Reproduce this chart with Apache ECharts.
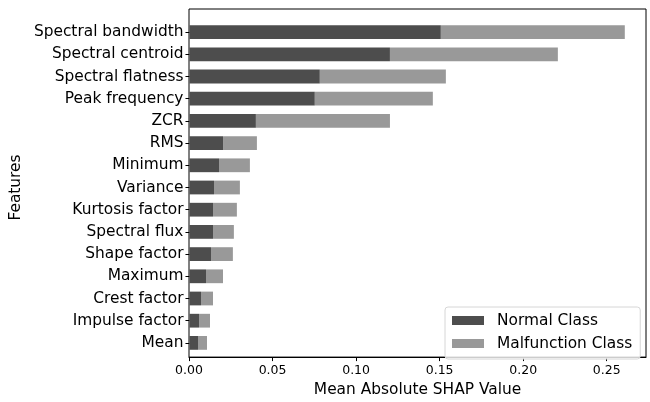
<!DOCTYPE html>
<html>
<head>
<meta charset="utf-8">
<script src="https://cdn.jsdelivr.net/npm/echarts@6/dist/echarts.min.js"></script>
<style>
  html, body { margin: 0; padding: 0; background: #fff; }
  #chart { width: 650px; height: 402px; }
</style>
</head>
<body>
<div id="chart"></div>
<script>
// Feature names, top to bottom
const features = [
  'Spectral bandwidth', 'Spectral centroid', 'Spectral flatness', 'Peak frequency',
  'ZCR', 'RMS', 'Minimum', 'Variance', 'Kurtosis factor', 'Spectral flux',
  'Shape factor', 'Maximum', 'Crest factor', 'Impulse factor', 'Mean'
];
// Mean |SHAP| per class
const normalClass = [
  0.1506, 0.1201, 0.0781, 0.0751, 0.0398, 0.0201, 0.0177, 0.0147,
  0.0141, 0.0141, 0.0129, 0.0099, 0.0069, 0.0057, 0.0051
];
const malfunctionClass = [
  0.1102, 0.1006, 0.0755, 0.0707, 0.0803, 0.0203, 0.0185, 0.0155,
  0.0143, 0.0125, 0.0131, 0.0102, 0.0072, 0.0066, 0.0054
];
const xTicks = [0, 0.05, 0.10, 0.15, 0.20, 0.25];
const xMax = 0.2735;

const FONT = 'DejaVu Sans';
const chart = echarts.init(document.getElementById('chart'), null, { renderer: 'canvas' });

chart.setOption({
  animation: false,
  textStyle: { fontFamily: FONT, color: '#000' },
  grid: [
    // outer frame with the value axis
    { left: 189, right: 4, top: 9, bottom: 38, show: true, borderColor: '#000', borderWidth: 1, backgroundColor: 'transparent' },
    // bar band area (inset like matplotlib's margins)
    { left: 189, right: 4, top: 21, bottom: 48 }
  ],
  xAxis: [
    {
      gridIndex: 0, type: 'value', min: 0, max: xMax, interval: xTicks[1] - xTicks[0],
      axisLine: { show: true, lineStyle: { color: '#000', width: 1 } },
      axisTick: { show: true, inside: false, length: 4, lineStyle: { color: '#000' } },
      axisLabel: {
        fontFamily: FONT, fontSize: 12.5, color: '#000', margin: 7,
        showMaxLabel: false,
        formatter: v => v.toFixed(2)
      },
      splitLine: { show: false },
      name: 'Mean Absolute SHAP Value', nameLocation: 'middle', nameGap: 23,
      nameTextStyle: { fontFamily: FONT, fontSize: 15.4, color: '#000' }
    },
    {
      gridIndex: 1, type: 'value', min: 0, max: xMax, show: false,
      splitLine: { show: false }
    }
  ],
  yAxis: [
    { gridIndex: 0, type: 'value', show: false, splitLine: { show: false } },
    {
      gridIndex: 1, type: 'category', data: features, inverse: true,
      axisLine: { show: false },
      axisTick: { show: true, alignWithLabel: true, length: 4, lineStyle: { color: '#000' } },
      axisLabel: { fontFamily: FONT, fontSize: 15.4, color: '#000', margin: 6 },
      name: 'Features', nameLocation: 'middle', nameGap: 159, nameRotate: 90,
      nameTextStyle: { fontFamily: FONT, fontSize: 15.4, color: '#000' }
    }
  ],
  legend: {
    orient: 'vertical', left: 445, top: 307,
    data: ['Normal Class', 'Malfunction Class'],
    icon: 'rect', itemWidth: 32, itemHeight: 9, itemGap: 4,
    padding: [4, 8, 6, 7],
    backgroundColor: 'rgba(255,255,255,0.8)',
    borderColor: '#d6d6d6', borderWidth: 1, borderRadius: 3,
    textStyle: { fontFamily: FONT, fontSize: 15.4, color: '#000', lineHeight: 19, padding: [0, 0, 0, 8] }
  },
  series: [
    {
      name: 'Normal Class', type: 'bar', stack: 'total',
      xAxisIndex: 1, yAxisIndex: 1, barWidth: '62%',
      itemStyle: { color: '#4d4d4d' },
      data: normalClass
    },
    {
      name: 'Malfunction Class', type: 'bar', stack: 'total',
      xAxisIndex: 1, yAxisIndex: 1, barWidth: '62%',
      itemStyle: { color: '#999999' },
      data: malfunctionClass
    }
  ]
});
</script>
</body>
</html>
